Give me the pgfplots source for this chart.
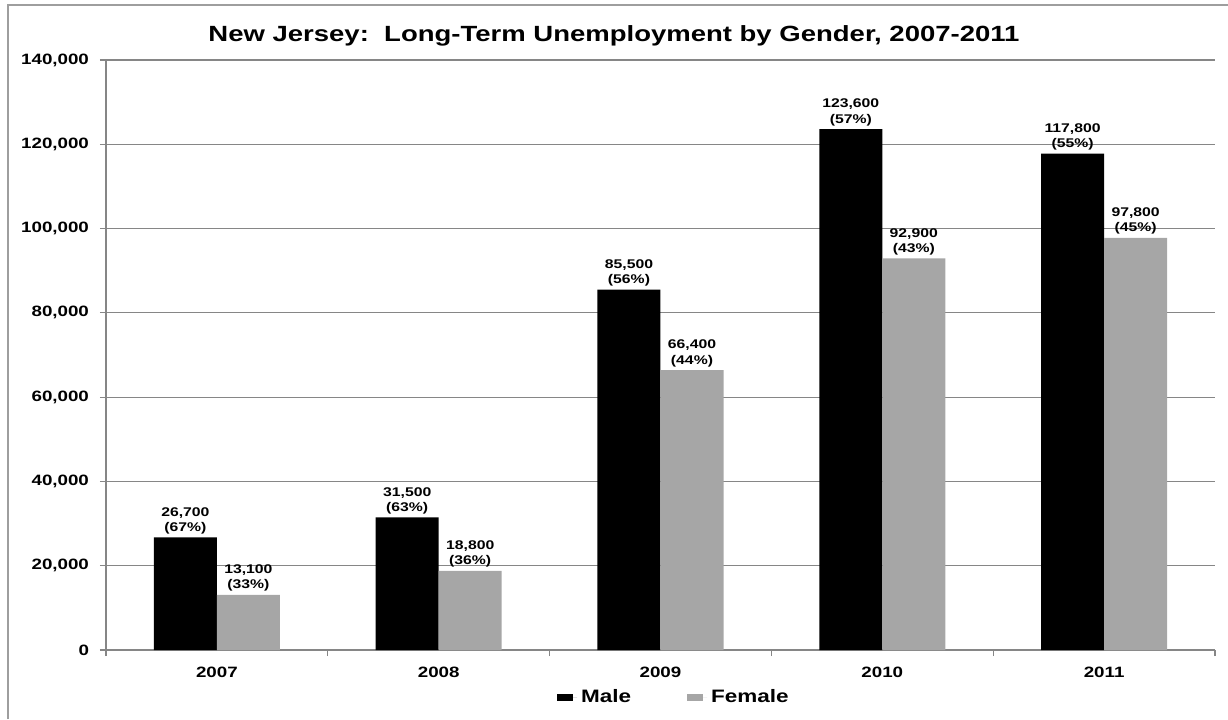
\documentclass[border=0pt]{standalone}
\usepackage{pgfplots}
\pgfplotsset{compat=1.18}
\usepackage{pgfplotstable}
\usepackage{fontspec}
\setmainfont{Liberation Sans}[FakeStretch=1.25]

\definecolor{barGray}{HTML}{A6A6A6}
\definecolor{lineGray}{HTML}{868686}

\pgfplotsset{/pgf/number format/assume math mode=true}

% year index, male, male share, female, female share
\pgfplotstableread{
x male mpct female fpct
0 26700 67 13100 33
1 31500 63 18800 36
2 85500 56 66400 44
3 123600 57 92900 43
4 117800 55 97800 45
}\data

\begin{document}
\begin{tikzpicture}
\path[use as bounding box] (0,0) rectangle (614pt,359.5pt);
\draw[lineGray!80, line width=0.6pt] (4pt,0) -- (4pt,357pt) -- (614pt,357pt);
\node[font=\bfseries\fontsize{11}{13}\selectfont, anchor=base] at (307pt,338.6pt)
  {New Jersey:\ \ Long-Term Unemployment by Gender, 2007-2011};
\begin{axis}[
    at={(53pt,34.5pt)}, anchor=south west,
    scale only axis,
    width=554.5pt, height=295pt,
    ybar=0pt, bar width=31.5pt,
    xmin=-0.5, xmax=4.5,
    ymin=0, ymax=140000,
    ytick distance=20000,
    scaled y ticks=false,
    yticklabel={\pgfmathprintnumber[fixed,precision=0,1000 sep={,}]{\tick}},
    yticklabel style={xshift=-2pt},
    xtick={-0.5,0.5,...,4.5},
    xticklabels={},
    extra x ticks={0,...,4},
    extra x tick labels={2007,2008,2009,2010,2011},
    extra x tick style={major tick length=0pt, xticklabel style={yshift=-5pt}},
    tick align=outside,
    major tick length=3pt,
    tick style={lineGray, line width=0.6pt},
    axis x line*=bottom, axis y line*=left,
    axis line style={lineGray, line width=0.7pt, -},
    ymajorgrids,
    grid style={lineGray, line width=0.6pt},
    ticklabel style={font=\bfseries\fontsize{7.5}{9}\selectfont},
    nodes near coords={\pgfmathprintnumber[fixed,precision=0,1000 sep={,}]{\pgfplotspointmeta}\\(\pgfmathprintnumber[fixed,precision=0]{\pct}\%)},
    nodes near coords style={font=\bfseries\fontsize{6.3}{7.6}\selectfont, align=center, inner sep=1.5pt},
    legend style={at={(0.513,-0.08)}, anchor=center, draw=none,
      font=\bfseries\fontsize{9}{11}\selectfont},
    legend columns=2,
    /tikz/every even column/.append style={column sep=26pt},
    legend image code/.code={\fill[#1] (0pt,-1.75pt) rectangle (8pt,1.75pt);
      \path (0pt,0pt) -- (10pt,0pt);},
]
\addplot[fill=black, draw=none,
  visualization depends on={\thisrow{mpct} \as \pct}]
  table[x=x, y=male] {\data};
\addplot[fill=barGray, draw=none,
  visualization depends on={\thisrow{fpct} \as \pct}]
  table[x=x, y=female] {\data};
\legend{Male, Female}
\end{axis}
\end{tikzpicture}
\end{document}
